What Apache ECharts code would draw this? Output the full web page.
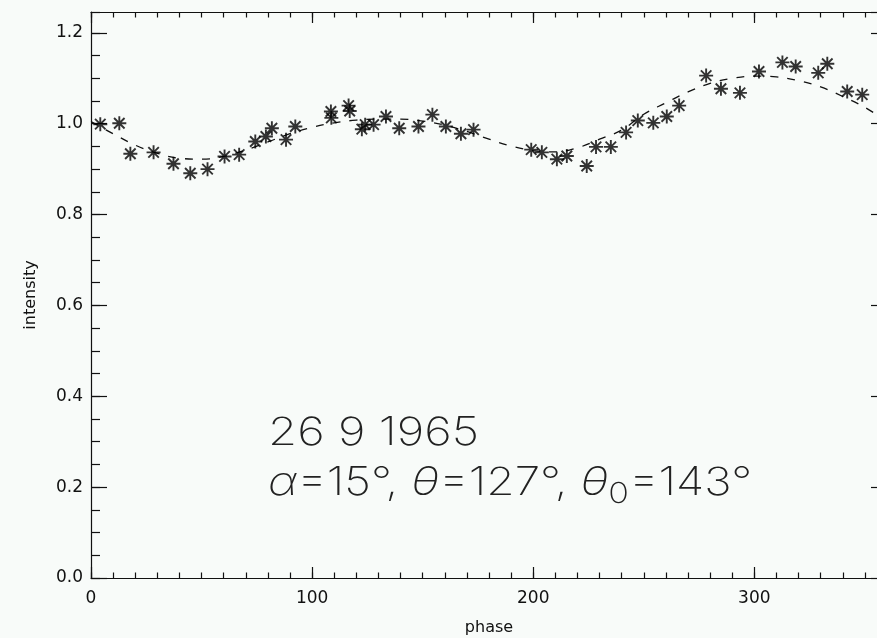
<!DOCTYPE html>
<html><head><meta charset="utf-8">
<script src="https://cdn.jsdelivr.net/npm/echarts@6/dist/echarts.min.js"></script>
<style>html,body{margin:0;padding:0;background:#f8fbf9}#c{width:877px;height:638px}</style>
</head><body><div id="c"></div>
<script>
// observed points (asterisks)
const phase = [4.2, 12.8, 17.8, 28.3, 37.3, 44.9, 52.7, 60.4, 67.0, 74.3, 79.1, 81.8, 88.2, 92.4,
  108.5, 108.7, 116.5, 117.0, 122.5, 124.0, 127.8, 133.4, 139.4, 148.1, 154.4, 160.5, 167.3, 173.0,
  199.1, 203.9, 210.7, 215.2, 224.2, 228.4, 235.1, 242.0, 247.3, 254.3, 260.4, 266.0,
  278.2, 284.9, 293.5, 302.1, 312.7, 318.7, 328.9, 333.0, 342.0, 348.8];
const intensity = [0.999, 1.001, 0.934, 0.937, 0.912, 0.891, 0.900, 0.928, 0.932, 0.961, 0.972, 0.990, 0.965, 0.994,
  1.027, 1.013, 1.040, 1.028, 0.988, 0.998, 0.998, 1.016, 0.990, 0.994, 1.020, 0.994, 0.978, 0.987,
  0.943, 0.937, 0.922, 0.929, 0.907, 0.949, 0.949, 0.981, 1.007, 1.002, 1.016, 1.040,
  1.106, 1.077, 1.068, 1.115, 1.135, 1.126, 1.112, 1.132, 1.071, 1.064];
// model curve (dashed)
const fitPhase = [0,10,20,30,40,50,60,70,80,90,100,110,120,130,140,150,160,170,180,
  190,200,210,220,230,240,250,260,270,280,290,300,310,320,330,340,350,360];
const fitIntensity = [1.005,0.978,0.953,0.935,0.924,0.922,0.928,0.942,0.960,0.978,0.992,1.002,1.008,1.010,1.010,1.006,0.997,0.983,0.966,
  0.951,0.941,0.938,0.947,0.966,0.986,1.021,1.046,1.070,1.089,1.100,1.105,1.103,1.095,1.081,1.060,1.036,1.005];
const xTickLabels = [0, 100, 200, 300];
const yTickLabels = [0.0, 0.2, 0.4, 0.6, 0.8, 1.0, 1.2];
const annotation = ['26 9 1965', '{it|α}=15°, {it|θ}=127°, {it|θ}{sub|0}=143°'];

const INK = '#111';
const FONT = 'DejaVu Sans';
const AFONT = 'Inter';
const XMAX = 360, YMAX = 1.246;

function xAx(pos, interval, len, withLine, withLabel) {
  return {
    type: 'value', position: pos, min: 0, max: XMAX, interval: interval,
    axisLine: {show: withLine, onZero: false, lineStyle: {color: INK, width: 1.2}},
    axisTick: {show: true, inside: true, length: len, lineStyle: {color: INK, width: 1.2}},
    axisLabel: withLabel ? {show: true, margin: 12, color: INK, fontFamily: FONT, fontSize: 17,
      showMaxLabel: false,
      formatter: v => xTickLabels.indexOf(v) >= 0 ? String(v) : ''} : {show: false},
    splitLine: {show: false},
    name: withLabel ? 'phase' : '', nameLocation: 'middle', nameGap: 42,
    nameTextStyle: {color: INK, fontFamily: FONT, fontSize: 16}
  };
}
function yAx(pos, interval, len, withLine, withLabel) {
  return {
    type: 'value', position: pos, min: 0, max: YMAX, interval: interval,
    axisLine: {show: withLine, onZero: false, lineStyle: {color: INK, width: 1.2}},
    axisTick: {show: true, inside: true, length: len, lineStyle: {color: INK, width: 1.2}},
    axisLabel: withLabel ? {show: true, margin: 8, color: INK, fontFamily: FONT, fontSize: 17,
      showMaxLabel: false,
      formatter: v => yTickLabels.some(t => Math.abs(t - v) < 1e-6) ? v.toFixed(1) : ''} : {show: false},
    splitLine: {show: false},
    name: withLabel ? 'intensity' : '', nameLocation: 'middle', nameGap: 52,
    nameTextStyle: {color: INK, fontFamily: FONT, fontSize: 16}
  };
}

const chart = echarts.init(document.getElementById('c'));
chart.setOption({
  animation: false,
  backgroundColor: '#f8fbf9',
  grid: {left: 91, top: 12, width: 796, height: 566, containLabel: false, outerBoundsMode: 'none'},
  xAxis: [xAx('bottom', 100, 11, true, true), xAx('bottom', 10, 5.5, false, false),
          xAx('top', 100, 11, true, false), xAx('top', 10, 5.5, false, false)],
  yAxis: [yAx('left', 0.2, 16, true, true), yAx('left', 0.05, 9, false, false),
          yAx('right', 0.2, 16, true, false), yAx('right', 0.05, 9, false, false)],
  series: [
    {type: 'line', xAxisIndex: 0, yAxisIndex: 0, data: fitPhase.map((p, i) => [p, fitIntensity[i]]),
     smooth: 0.4, symbol: 'none', z: 2,
     lineStyle: {color: INK, width: 1.3, type: [8, 9]}},
    {type: 'scatter', xAxisIndex: 0, yAxisIndex: 0, data: phase.map((p, i) => [p, intensity[i]]),
     symbol: 'path://M0,-10L0,10M-10,0L10,0M-7.5,-7.5L7.5,7.5M-7.5,7.5L7.5,-7.5', symbolSize: 14, z: 3,
     itemStyle: {color: '#000', borderColor: '#000', borderWidth: 1.9}}
  ],
  graphic: [
    {type: 'text', left: 268, top: 414, z: 10, scaleX: 1.21,
     style: {text: annotation[0], fontSize: 39, fontFamily: AFONT, fontWeight: 200, fill: '#222'}},
    {type: 'text', left: 268, top: 464, z: 10, scaleX: 1.18,
     style: {text: annotation[1], fontSize: 39, fontFamily: AFONT, fontWeight: 200, fill: '#222',
       rich: {
         it: {fontStyle: 'italic', fontSize: 39, fontFamily: AFONT, fontWeight: 200},
         sub: {fontSize: 29, fontFamily: AFONT, fontWeight: 200, padding: [22, 0, 0, 0]}
       }}}
  ]
});
</script>
</body></html>
